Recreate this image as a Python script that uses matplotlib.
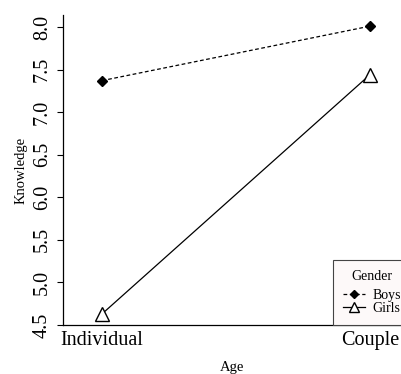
import matplotlib
matplotlib.use("Agg")
import matplotlib.pyplot as plt

age_levels = ["Individual", "Couple"]
boys = [7.37, 8.01]
girls = [4.63, 7.44]
yticks = [4.5, 5.0, 5.5, 6.0, 6.5, 7.0, 7.5, 8.0]

plt.rcParams['font.family'] = ['Liberation Serif', 'DejaVu Serif']

W, H = 402, 374
fig = plt.figure(figsize=(W/100, H/100), dpi=100)
ax = fig.add_axes([63/W, (H-325)/H, (W-63)/W, 310/H])

x = [1, 2]
ax.plot(x, boys, linestyle=(0, (3, 2)), color='black', lw=0.9,
        marker='D', markersize=5, markerfacecolor='black', label='Boys', clip_on=False)
ax.plot(x, girls, linestyle='-', color='black', lw=0.9,
        marker='^', markersize=10, markerfacecolor='white', markeredgewidth=1.0,
        label='Girls', clip_on=False)

ax.set_xlim(1 - 39/268, 2 + 32/268)
ax.set_ylim(4.5, 8.0 + 12/85.2)
ax.set_xticks(x)
ax.set_xticklabels(age_levels, fontsize=14.5)
ax.tick_params(axis='x', length=0, pad=4)
ax.set_yticks(yticks)
ax.set_yticklabels([f"{v:.1f}" for v in yticks], fontsize=14.5, rotation=90, va='center')
ax.tick_params(axis='y', length=4, width=0.8, pad=4)

for s in ['top', 'right']:
    ax.spines[s].set_visible(False)
for s in ['left', 'bottom']:
    ax.spines[s].set_linewidth(0.9)

ax.set_xlabel('Age', fontsize=10.5, labelpad=8)
ax.set_ylabel('Knowledge', fontsize=10.5, labelpad=4)

leg = ax.legend(title='Gender', loc='lower left',
                bbox_to_anchor=(333/W, (H-325)/H), bbox_transform=fig.transFigure,
                borderaxespad=0, fancybox=False, frameon=True, fontsize=10,
                title_fontsize=10, handlelength=1.6, handletextpad=0.55,
                borderpad=0.7, labelspacing=0.05, markerscale=0.75)
leg._legend_box.sep = 4
frame = leg.get_frame()
frame.set_facecolor('#fdf9f9')
frame.set_edgecolor('#444444')
frame.set_linewidth(0.8)
frame.set_alpha(1)

fig.savefig('out.png', dpi=100)
